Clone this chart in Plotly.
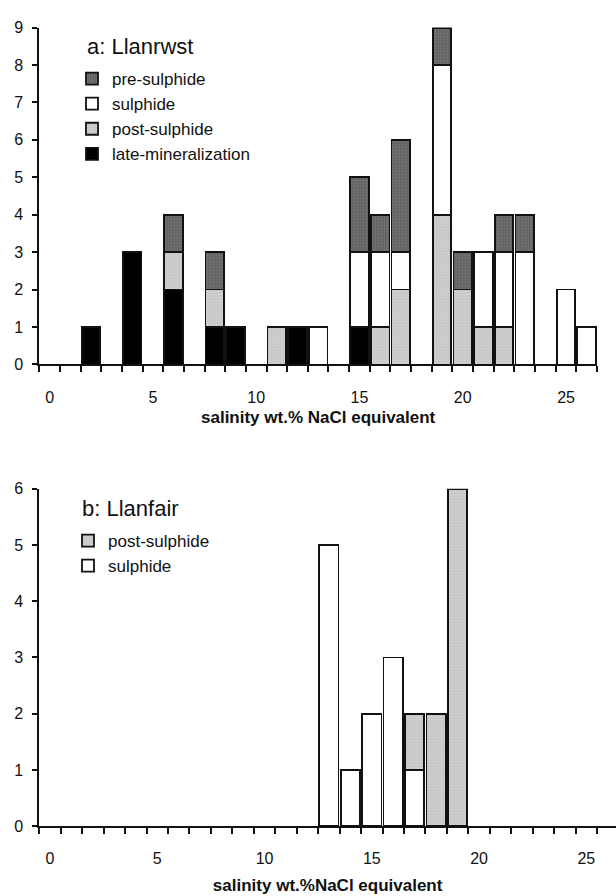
import plotly.graph_objects as go

# ---- data ----
bins = list(range(27))  # salinity wt.% NaCl equivalent (1-unit bins)

a_late = [0, 0, 1, 0, 3, 0, 2, 0, 1, 1, 0, 0, 1, 0, 0, 1, 0, 0, 0, 0, 0, 0, 0, 0, 0, 0, 0]
a_post = [0, 0, 0, 0, 0, 0, 1, 0, 1, 0, 0, 1, 0, 0, 0, 0, 1, 2, 0, 4, 2, 1, 1, 0, 0, 0, 0]
a_sulph = [0, 0, 0, 0, 0, 0, 0, 0, 0, 0, 0, 0, 0, 1, 0, 2, 2, 1, 0, 4, 0, 2, 2, 3, 0, 2, 1]
a_pre = [0, 0, 0, 0, 0, 0, 1, 0, 1, 0, 0, 0, 0, 0, 0, 2, 1, 3, 0, 1, 1, 0, 1, 1, 0, 0, 0]

b_sulph = [0, 0, 0, 0, 0, 0, 0, 0, 0, 0, 0, 0, 0, 5, 1, 2, 3, 1, 0, 0, 0, 0, 0, 0, 0, 0, 0]
b_post = [0, 0, 0, 0, 0, 0, 0, 0, 0, 0, 0, 0, 0, 0, 0, 0, 0, 1, 2, 6, 0, 0, 0, 0, 0, 0, 0]

tick_labels = ["0", "5", "10", "15", "20", "25"]
tick_vals = [0, 5, 10, 15, 20, 25]

FONT = "Liberation Sans, Arial, Helvetica, sans-serif"
W, H = 616, 896
INK = "#111111"

STYLE = {
    "pre-sulphide": dict(color="#6a6a6a",
                         pattern=dict(shape=".", fgcolor="#3a3a3a", bgcolor="#777777",
                                      size=3, solidity=0.45)),
    "sulphide": dict(color="#ffffff"),
    "post-sulphide": dict(color="#c8c8c8",
                          pattern=dict(shape=".", fgcolor="#a8a8a8", bgcolor="#d2d2d2",
                                       size=3, solidity=0.4)),
    "late-mineralization": dict(color="#000000"),
}


def nz(v):
    return [x if x else None for x in v]


fig = go.Figure()


def add(vals, name, xa, ya, legend):
    fig.add_trace(go.Bar(
        x=bins, y=nz(vals), name=name, xaxis=xa, yaxis=ya, legend=legend,
        marker=dict(STYLE[name], line=dict(color=INK, width=1.8)),
        hoverinfo="skip",
    ))


# panel a: stacked from bottom: late, post, sulphide, pre
add(a_late, "late-mineralization", "x", "y", "legend")
add(a_post, "post-sulphide", "x", "y", "legend")
add(a_sulph, "sulphide", "x", "y", "legend")
add(a_pre, "pre-sulphide", "x", "y", "legend")
# panel b: sulphide, post
add(b_sulph, "sulphide", "x2", "y2", "legend2")
add(b_post, "post-sulphide", "x2", "y2", "legend2")


def px_x(p):
    return p / W


def px_y(p):
    return 1 - p / H


minor_vals = [b - 0.5 for b in bins] + [bins[-1] + 0.5]
title_font = dict(family=FONT, size=17, color=INK, weight="bold")

xcommon = dict(
    tickmode="array", tickvals=tick_vals, ticktext=tick_labels,
    ticks="outside", ticklen=0, showline=True, linecolor=INK, linewidth=2,
    showgrid=False, zeroline=False,
    tickfont=dict(family=FONT, size=16, color=INK),
    minor=dict(tickmode="array", tickvals=minor_vals, ticks="outside",
               ticklen=6, tickwidth=1.5, tickcolor=INK, showgrid=False),
    ticklabelstandoff=17,
)
ycommon = dict(
    tickmode="linear", tick0=0, dtick=1, ticks="outside", ticklen=5, tickwidth=1.5,
    tickcolor=INK, showline=True, linecolor=INK, linewidth=2,
    showgrid=False, zeroline=False,
    tickfont=dict(family=FONT, size=16, color=INK),
    ticklabelstandoff=6,
)

fig.update_layout(
    width=W, height=H, margin=dict(l=0, r=0, t=0, b=0),
    paper_bgcolor="white", plot_bgcolor="white",
    barmode="stack", bargap=0.1,
    showlegend=True,
    font=dict(family=FONT, color=INK),
    xaxis=dict(xcommon, domain=[px_x(39.3), px_x(597)], range=[-0.5, 26.5],
               anchor="y",
               title=dict(text="salinity wt.% NaCl equivalent", standoff=6, font=title_font)),
    yaxis=dict(ycommon, domain=[px_y(363.3), px_y(20)], range=[0, 9], anchor="x"),
    xaxis2=dict(xcommon, domain=[px_x(39.3), 1], range=[-0.5, -0.5 + (616 - 39.3) / 21.45],
                anchor="y2",
                title=dict(text="salinity wt.%NaCl equivalent", standoff=13, font=title_font)),
    yaxis2=dict(ycommon, domain=[px_y(834), px_y(490)], range=[0, 6], anchor="x2"),
    legend=dict(x=px_x(72), y=px_y(54), xanchor="left", yanchor="top",
                traceorder="reversed", bgcolor="rgba(0,0,0,0)", borderwidth=0,
                font=dict(family=FONT, size=17, color=INK)),
    legend2=dict(x=px_x(68), y=px_y(525), xanchor="left", yanchor="top",
                 traceorder="reversed", bgcolor="rgba(0,0,0,0)", borderwidth=0,
                 font=dict(family=FONT, size=17, color=INK)),
    annotations=[
        dict(text="a: Llanrwst", xref="paper", yref="paper", x=px_x(85), y=px_y(39),
             xanchor="left", yanchor="middle", showarrow=False,
             font=dict(family=FONT, size=22, color=INK)),
        dict(text="b: Llanfair", xref="paper", yref="paper", x=px_x(80), y=px_y(510),
             xanchor="left", yanchor="middle", showarrow=False,
             font=dict(family=FONT, size=22, color=INK)),
    ],
)

fig.write_html("out.html")
